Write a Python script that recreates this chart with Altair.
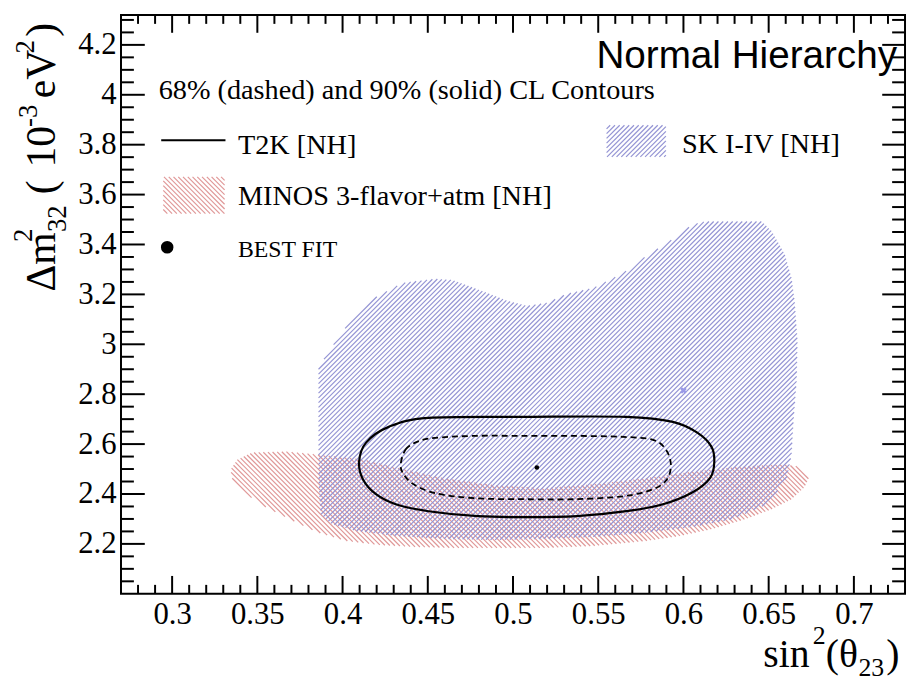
import numpy as np
import pandas as pd
import altair as alt

# ---------------- axis ranges ----------------
X0, X1 = 0.27, 0.73
Y0, Y1 = 2.0, 4.32
W, H = 791, 584

x_major = [0.3, 0.35, 0.4, 0.45, 0.5, 0.55, 0.6, 0.65, 0.7]
x_minor = [round(v, 2) for v in np.arange(0.28, 0.7201, 0.01) if round(v * 100) % 5 != 0]
y_major = [2.2, 2.4, 2.6, 2.8, 3.0, 3.2, 3.4, 3.6, 3.8, 4.0, 4.2]
y_minor = [round(v, 2) for v in np.arange(2.05, 4.31, 0.05) if round(v * 100) % 20 != 0]

# ---------------- contours ----------------
t2k90_x = [0.4097, 0.4138, 0.4271, 0.4504, 0.5084, 0.5665, 0.5938, 0.6083, 0.6164, 0.6181,
           0.6158, 0.6054, 0.5880, 0.5665, 0.5374, 0.5084, 0.4794, 0.4504, 0.4312, 0.4196, 0.4120]
t2k90_y = [2.530, 2.606, 2.669, 2.705, 2.709, 2.709, 2.689, 2.645, 2.590, 2.530,
           2.466, 2.407, 2.359, 2.331, 2.311, 2.307, 2.311, 2.331, 2.359, 2.399, 2.458]

t2k68_x = [0.4341, 0.4370, 0.4440, 0.4544, 0.4776, 0.5067, 0.5357, 0.5647, 0.5821, 0.5897,
           0.5926, 0.5903, 0.5821, 0.5647, 0.5357, 0.5067, 0.4776, 0.4544, 0.4417, 0.4359]
t2k68_y = [2.518, 2.578, 2.610, 2.625, 2.633, 2.633, 2.633, 2.629, 2.617, 2.578,
           2.518, 2.458, 2.419, 2.391, 2.379, 2.379, 2.383, 2.403, 2.439, 2.478]

t2k_best_x = [0.514]
t2k_best_y = [2.506]

sk_x = [0.3859, 0.3952, 0.4080, 0.4155, 0.4266, 0.4353, 0.4544, 0.4643, 0.4817, 0.4968,
        0.5084, 0.5200, 0.5316, 0.5473, 0.5647, 0.5781, 0.5920, 0.6054, 0.6129, 0.6460,
        0.6518, 0.6594, 0.6634, 0.6652, 0.6669, 0.6664, 0.6646, 0.6634, 0.6605, 0.6489,
        0.6286, 0.6054, 0.5763, 0.5473, 0.5183, 0.4893, 0.4602, 0.4312, 0.4080, 0.3935,
        0.3871, 0.3859]
sk_y = [2.908, 3.003, 3.126, 3.174, 3.214, 3.246, 3.262, 3.258, 3.214, 3.174,
        3.154, 3.166, 3.202, 3.226, 3.285, 3.353, 3.413, 3.480, 3.492, 3.492,
        3.453, 3.361, 3.266, 3.174, 3.015, 2.856, 2.697, 2.558, 2.458, 2.359,
        2.299, 2.268, 2.244, 2.228, 2.220, 2.216, 2.220, 2.232, 2.252, 2.280,
        2.319, 2.458]
sk_best_x = [0.600]
sk_best_y = [2.815]

minos_x = [0.3343, 0.3383, 0.3470, 0.3673, 0.3848, 0.4120, 0.4312, 0.4602, 0.4893, 0.5183,
           0.5473, 0.5763, 0.6054, 0.6344, 0.6576, 0.6681, 0.6739, 0.6710, 0.6634, 0.6518,
           0.6361, 0.6170, 0.5978, 0.5781, 0.5473, 0.5183, 0.4893, 0.4660, 0.4428, 0.4213,
           0.4022, 0.3848, 0.3691, 0.3540, 0.3412, 0.3354]
minos_y = [2.498, 2.538, 2.566, 2.570, 2.558, 2.538, 2.506, 2.462, 2.435, 2.423,
           2.439, 2.462, 2.490, 2.510, 2.518, 2.510, 2.470, 2.427, 2.379, 2.339,
           2.299, 2.260, 2.232, 2.212, 2.192, 2.184, 2.184, 2.184, 2.188, 2.196,
           2.212, 2.248, 2.299, 2.351, 2.411, 2.458]

# legend boxes (data coordinates)
minos_box_x = [0.2948, 0.3308, 0.3308, 0.2948]
minos_box_y = [3.671, 3.671, 3.524, 3.524]
sk_box_x = [0.5549, 0.5897, 0.5897, 0.5549]
sk_box_y = [3.878, 3.878, 3.751, 3.751]

legend_line_x = [0.2936]
legend_line_x2 = [0.3313]
legend_line_y = [3.818]
legend_dot_x = [0.2971]
legend_dot_y = [3.389]

legend_texts = ["68% (dashed) and 90% (solid) CL Contours", "T2K [NH]",
                "MINOS 3-flavor+atm [NH]", "SK I-IV [NH]"]
legend_text_x = [0.2921, 0.3386, 0.3386, 0.5991]
legend_text_y = [3.982, 3.764, 3.557, 3.768]

SERIF = "Liberation Serif"
SANS = "Liberation Sans"
SK_COLOR = "#9494d4"
MINOS_COLOR = "#e09898"


def hatch_segments(xs, ys, step, sign):
    px = (np.asarray(xs) - X0) / (X1 - X0) * W
    py = (Y1 - np.asarray(ys)) / (Y1 - Y0) * H
    c = px + sign * py
    n = len(px)
    rows = []
    for k in range(int(np.floor(c.min() / step)), int(np.ceil(c.max() / step)) + 1):
        cc = k * step
        hits = []
        for i in range(n):
            j = (i + 1) % n
            a, b = c[i], c[j]
            if (a <= cc < b) or (b <= cc < a):
                t = (cc - a) / (b - a)
                hits.append(px[i] + t * (px[j] - px[i]))
        hits.sort()
        for h0, h1 in zip(hits[0::2], hits[1::2]):
            p0y = (cc - h0) * sign
            p1y = (cc - h1) * sign
            rows.append({
                "x": X0 + h0 / W * (X1 - X0), "y": Y1 - p0y / H * (Y1 - Y0),
                "x2": X0 + h1 / W * (X1 - X0), "y2": Y1 - p1y / H * (Y1 - Y0),
            })
    return pd.DataFrame(rows)


xscale = alt.Scale(domain=[X0, X1], nice=False, zero=False)
yscale = alt.Scale(domain=[Y0, Y1], nice=False, zero=False)
x_axis = alt.Axis(values=x_major, format=".2~f", title=None, labelFlush=False,
                  labelPadding=6, labelFont=SERIF, labelFontSize=31, labelColor="black",
                  ticks=False, domain=False, grid=False)
y_axis = alt.Axis(values=y_major, format=".1~f", title=None, labelFlush=False,
                  labelPadding=5, labelFont=SERIF, labelFontSize=31, labelColor="black",
                  ticks=False, domain=False, grid=False)


def X(f):
    return alt.X(f, type="quantitative", scale=xscale, axis=x_axis)


def Y(f):
    return alt.Y(f, type="quantitative", scale=yscale, axis=y_axis)


layers = []

# hatched regions
for xs, ys, sign, col in [(minos_x, minos_y, -1, MINOS_COLOR), (sk_x, sk_y, 1, SK_COLOR),
                          (minos_box_x, minos_box_y, -1, MINOS_COLOR), (sk_box_x, sk_box_y, 1, SK_COLOR)]:
    df = hatch_segments(xs, ys, 4.8, sign)
    layers.append(alt.Chart(df).mark_rule(color=col, strokeWidth=1.2).encode(
        x=X("x"), y=Y("y"), x2="x2", y2="y2"))

# SK best fit
layers.append(alt.Chart(pd.DataFrame({"x": sk_best_x, "y": sk_best_y})).mark_point(
    shape="cross", filled=True, size=45, color="#9a9ae8", opacity=1, angle=45).encode(x=X("x"), y=Y("y")))


def contour_df(xs, ys):
    return pd.DataFrame({"x": xs, "y": ys, "i": range(len(xs))})


layers.append(alt.Chart(contour_df(t2k90_x, t2k90_y)).mark_line(
    color="black", strokeWidth=2.2, interpolate="cardinal-closed").encode(
    x=X("x"), y=Y("y"), order="i:Q"))
layers.append(alt.Chart(contour_df(t2k68_x, t2k68_y)).mark_line(
    color="black", strokeWidth=1.8, strokeDash=[6, 4], interpolate="cardinal-closed").encode(
    x=X("x"), y=Y("y"), order="i:Q"))
layers.append(alt.Chart(pd.DataFrame({"x": t2k_best_x, "y": t2k_best_y})).mark_point(
    shape="circle", filled=True, size=22, color="black", opacity=1).encode(x=X("x"), y=Y("y")))

# ticks (inside frame, all four sides)
xm = pd.DataFrame({"v": x_major})
xn = pd.DataFrame({"v": x_minor})
ym = pd.DataFrame({"v": y_major})
yn = pd.DataFrame({"v": y_minor})
tk = dict(color="black", strokeWidth=2)
layers += [
    alt.Chart(xm).mark_rule(**tk).encode(x=X("v"), y=alt.value(H - 18), y2=alt.value(H)),
    alt.Chart(xn).mark_rule(**tk).encode(x=X("v"), y=alt.value(H - 9), y2=alt.value(H)),
    alt.Chart(xm).mark_rule(**tk).encode(x=X("v"), y=alt.value(0), y2=alt.value(18)),
    alt.Chart(xn).mark_rule(**tk).encode(x=X("v"), y=alt.value(0), y2=alt.value(9)),
    alt.Chart(ym).mark_rule(**tk).encode(y=Y("v"), x=alt.value(0), x2=alt.value(24)),
    alt.Chart(yn).mark_rule(**tk).encode(y=Y("v"), x=alt.value(0), x2=alt.value(13)),
    alt.Chart(ym).mark_rule(**tk).encode(y=Y("v"), x=alt.value(W - 23), x2=alt.value(W)),
    alt.Chart(yn).mark_rule(**tk).encode(y=Y("v"), x=alt.value(W - 13), x2=alt.value(W)),
]

# legend
layers.append(alt.Chart(pd.DataFrame({"x": legend_line_x, "x2": legend_line_x2, "y": legend_line_y}))
              .mark_rule(color="black", strokeWidth=2).encode(x=X("x"), x2="x2", y=Y("y")))
layers.append(alt.Chart(pd.DataFrame({"x": legend_dot_x, "y": legend_dot_y})).mark_point(
    shape="circle", filled=True, size=160, color="black", opacity=1).encode(x=X("x"), y=Y("y")))
layers.append(alt.Chart(pd.DataFrame({"x": legend_text_x, "y": legend_text_y, "t": legend_texts}))
              .mark_text(font=SERIF, fontSize=28.5, align="left", baseline="alphabetic", color="black")
              .encode(x=X("x"), y=Y("y"), text="t:N"))
layers.append(alt.Chart(pd.DataFrame({"x": [0.3386], "y": [3.351], "t": ["BEST FIT"]}))
              .mark_text(font=SERIF, fontSize=24, align="left", baseline="alphabetic", color="black")
              .encode(x=X("x"), y=Y("y"), text="t:N"))
layers.append(alt.Chart(pd.DataFrame({"x": [0.7253], "y": [4.109], "t": ["Normal Hierarchy"]}))
              .mark_text(font=SANS, fontSize=39, align="right", baseline="alphabetic", color="black")
              .encode(x=X("x"), y=Y("y"), text="t:N"))

# axis titles built from pieces (super/subscripts)
OX, OY = 122, 12
xt_pieces = [("sin", 770, 670, 40), ("2", 820, 647, 26), ("(\u03b8", 833, 670, 40),
             ("23", 866, 679, 26), (")", 894, 670, 40)]
for t, ax, ay, fs in xt_pieces:
    layers.append(alt.Chart(pd.DataFrame({"t": [t]})).mark_text(
        font=SERIF, fontSize=fs, align="left", baseline="alphabetic", color="black").encode(
        x=alt.value(ax - OX), y=alt.value(ay - OY), text="t:N"))

yt_pieces = [("\u0394m", 55, 291, 42), ("2", 32, 241, 27), ("32", 67, 231, 27),
             ("(", 55, 193, 42), ("10", 55, 166, 42), ("-3", 37, 125, 27), ("eV", 55, 96, 42),
             ("2", 34, 51, 27), (")", 55, 34, 42)]
for t, ax, ay, fs in yt_pieces:
    layers.append(alt.Chart(pd.DataFrame({"t": [t]})).mark_text(
        font=SERIF, fontSize=fs, align="left", baseline="alphabetic", angle=270, color="black").encode(
        x=alt.value(ax - OX), y=alt.value(ay - OY), text="t:N"))

chart = alt.layer(*layers).properties(
    width=W, height=H,
    autosize=alt.AutoSizeParams(type="none"),
    padding={"left": 114, "top": 4, "right": 2, "bottom": 87},
    background="white",
).configure_view(stroke="black", strokeWidth=2).configure_axis(
    labelFont=SERIF, labelFontSize=31, labelColor="black")

chart.save("out.html", embed_options={"renderer": "svg", "actions": False})
